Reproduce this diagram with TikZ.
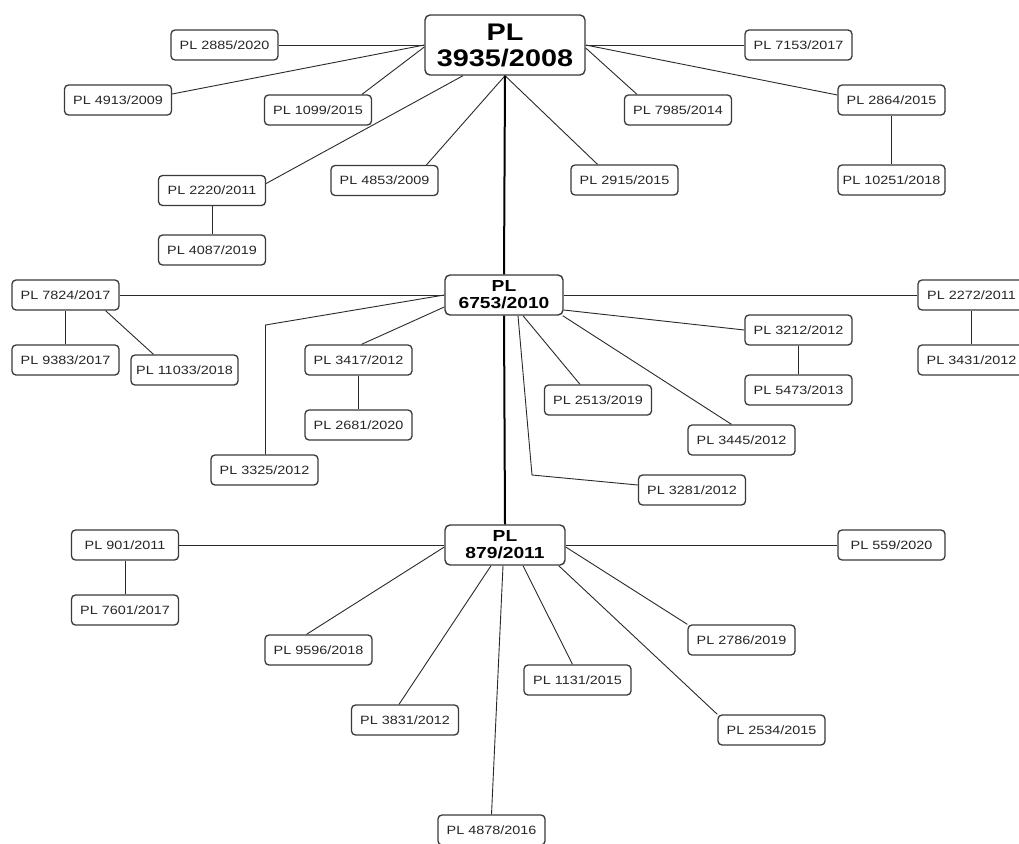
\documentclass[tikz,border=0pt]{standalone}
\usepackage{fontspec}
\usepackage{graphicx}
\setmainfont{Liberation Sans}
\newcommand\wide[1]{\scalebox{1.2}[1]{#1}}
\definecolor{edgecol}{HTML}{2A2A2A}
\definecolor{boxcol}{HTML}{3A3A3A}
\definecolor{txtcol}{HTML}{262626}
\begin{document}
\begin{tikzpicture}[x=1pt,y=-1pt,
  lawbox/.style={draw=boxcol,line width=1.3pt,rounded corners=4pt,fill=white,
    minimum width=107pt,minimum height=30pt,inner sep=0pt,text=txtcol,
    font=\fontsize{12}{14}\selectfont},
  hubbox/.style={draw=boxcol,line width=1.4pt,rounded corners=5pt,fill=white,
    inner sep=0pt,align=center,text=black},
  link/.style={draw=edgecol,line width=0.9pt},
  trunk/.style={draw=black,line width=2pt}]
\useasboundingbox (0,0) rectangle (1019,843);
\fill[white] (0,0) rectangle (1019,843);
% hubs
\node[hubbox,minimum width=160pt,minimum height=60pt,font=\bfseries\fontsize{24}{28}\selectfont] (main) at (505,45) {\wide{PL}\\[-2pt]\wide{3935/2008}};
\node[hubbox,minimum width=118pt,minimum height=40pt,font=\bfseries\fontsize{16}{17}\selectfont] (mid) at (504,295) {\wide{PL}\\\wide{6753/2010}};
\node[hubbox,minimum width=120pt,minimum height=40pt,font=\bfseries\fontsize{16}{17}\selectfont] (bot) at (505,545) {\wide{PL}\\\wide{879/2011}};
% top level
\node[lawbox] (n2885) at (224.5,45) {\wide{PL 2885/2020}};
\node[lawbox] (n4913) at (118,100) {\wide{PL 4913/2009}};
\node[lawbox] (n1099) at (318,110) {\wide{PL 1099/2015}};
\node[lawbox] (n2220) at (212,190.5) {\wide{PL 2220/2011}};
\node[lawbox] (n4087) at (212,250) {\wide{PL 4087/2019}};
\node[lawbox] (n4853) at (384.5,180.5) {\wide{PL 4853/2009}};
\node[lawbox] (n7153) at (798.5,45) {\wide{PL 7153/2017}};
\node[lawbox] (n7985) at (678,110) {\wide{PL 7985/2014}};
\node[lawbox] (n2864) at (891.5,100) {\wide{PL 2864/2015}};
\node[lawbox] (n10251) at (891.5,180) {\wide{PL 10251/2018}};
\node[lawbox] (n2915) at (624.5,180) {\wide{PL 2915/2015}};
% middle level
\node[lawbox] (n7824) at (65.5,295) {\wide{PL 7824/2017}};
\node[lawbox] (n9383) at (65.5,360) {\wide{PL 9383/2017}};
\node[lawbox] (n11033) at (184.5,370) {\wide{PL 11033/2018}};
\node[lawbox] (n3417) at (358.5,360) {\wide{PL 3417/2012}};
\node[lawbox] (n2681) at (358.5,425) {\wide{PL 2681/2020}};
\node[lawbox] (n3325) at (264.5,470) {\wide{PL 3325/2012}};
\node[lawbox] (n2272) at (971.5,295) {\wide{PL 2272/2011}};
\node[lawbox] (n3431) at (971.5,360) {\wide{PL 3431/2012}};
\node[lawbox] (n3212) at (798.5,330) {\wide{PL 3212/2012}};
\node[lawbox] (n5473) at (798.5,390) {\wide{PL 5473/2013}};
\node[lawbox] (n2513) at (598,400) {\wide{PL 2513/2019}};
\node[lawbox] (n3445) at (741.5,440) {\wide{PL 3445/2012}};
\node[lawbox] (n3281) at (692,490) {\wide{PL 3281/2012}};
% bottom level
\node[lawbox] (n901) at (125,545) {\wide{PL 901/2011}};
\node[lawbox] (n7601) at (125,610) {\wide{PL 7601/2017}};
\node[lawbox] (n9596) at (318.5,650) {\wide{PL 9596/2018}};
\node[lawbox] (n3831) at (405,720) {\wide{PL 3831/2012}};
\node[lawbox] (n4878) at (491.5,830) {\wide{PL 4878/2016}};
\node[lawbox] (n559) at (891.5,545) {\wide{PL 559/2020}};
\node[lawbox] (n2786) at (741.5,640) {\wide{PL 2786/2019}};
\node[lawbox] (n1131) at (577.5,680) {\wide{PL 1131/2015}};
\node[lawbox] (n2534) at (771.5,730) {\wide{PL 2534/2015}};
% bend points
\coordinate (b3325) at (265.5,325);
\coordinate (b3281) at (532,475);
% edges top
\path[link] (n2885.east) -- (main.west);
\path[link] ([yshift=6pt]n4913.east) -- (main.west);
\path[link] ([xshift=44pt]n1099.north) -- ([yshift=-2pt]main.west);
\path[link] ([yshift=7pt]n2220.east) -- ([xshift=-42pt]main.south);
\path[link] (n2220.south) -- (n4087.north);
\path[link] ([xshift=42pt]n4853.north) -- (main.south);
\path[link] (n7153.west) -- (main.east);
\path[link] ([yshift=5pt]n2864.west) -- (main.east);
\path[link] ([xshift=-41pt]n7985.north) -- ([yshift=-3pt]main.east);
\path[link] ([xshift=-27pt]n2915.north) -- (main.south);
\path[link] (n2864.south) -- (n10251.north);
\path[trunk] (main.south) -- (mid.north);
% edges middle
\path[link] (n7824.east) -- (mid.west);
\path[link] (n7824.south) -- (n9383.north);
\path[link] ([xshift=40pt]n7824.south) -- ([xshift=-31pt]n11033.north);
\path[link] ([xshift=1pt]n3325.north) -- (b3325) -- (mid.west);
\path[link] ([xshift=3pt]n3417.north) -- ([yshift=-12pt]mid.west);
\path[link] (n3417.south) -- (n2681.north);
\path[link] (mid.east) -- (n2272.west);
\path[link] (n2272.south) -- (n3431.north);
\path[link] ([yshift=-15pt]mid.east) -- (n3212.west);
\path[link] (n3212.south) -- (n5473.north);
\path[link] ([xshift=-1pt]mid.south east) -- ([xshift=-10pt]n3445.north);
\path[link] ([xshift=19pt]mid.south) -- ([xshift=-18pt]n2513.north);
\path[link] ([xshift=14pt]mid.south) -- (b3281) -- ([yshift=5pt]n3281.west);
\path[trunk] (mid.south) -- (bot.north);
% edges bottom
\path[link] (n901.east) -- (bot.west);
\path[link] (n901.south) -- (n7601.north);
\path[link] ([xshift=-12pt]n9596.north) -- ([yshift=-2pt]bot.west);
\path[link] ([xshift=-6pt]n3831.north) -- ([xshift=-14pt]bot.south);
\path[link] (n4878.north) -- ([xshift=-2pt]bot.south);
\path[link] (bot.east) -- (n559.west);
\path[link] ([yshift=-2pt]bot.east) -- (n2786.north west);
\path[link] ([xshift=-7pt]bot.south east) -- (n2534.north west);
\path[link] ([xshift=18pt]bot.south) -- ([xshift=-5pt]n1131.north);
\end{tikzpicture}
\end{document}
